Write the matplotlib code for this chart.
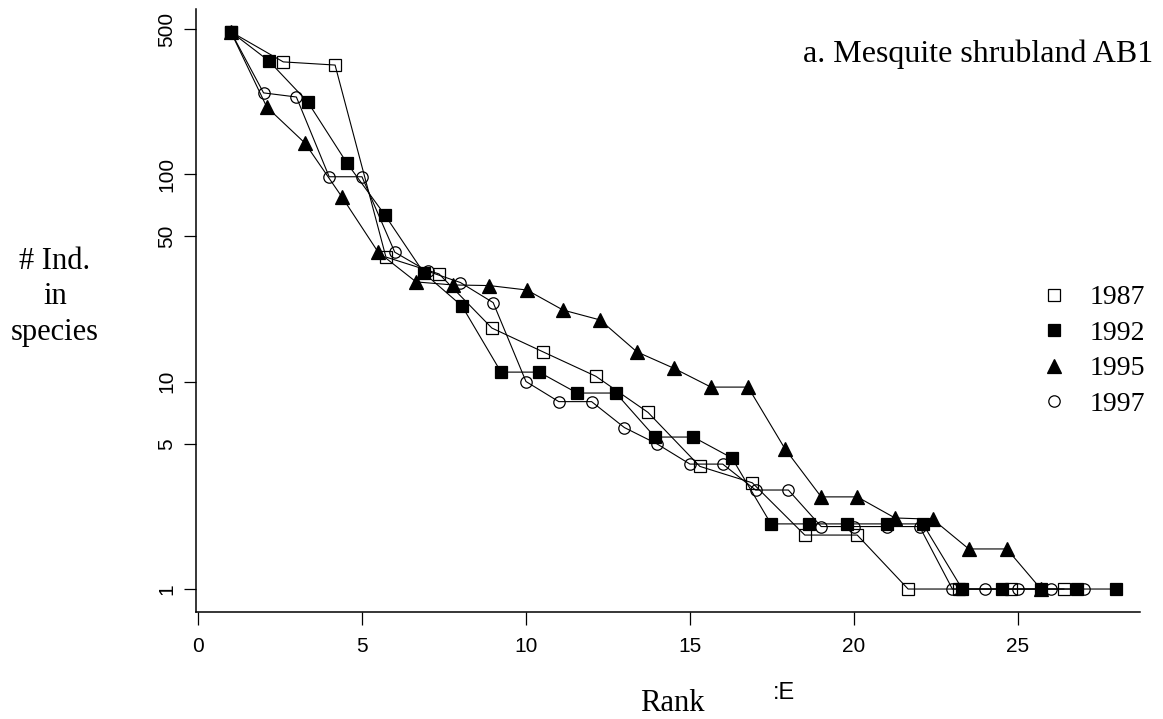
import matplotlib
matplotlib.use('Agg')
import matplotlib.pyplot as plt
from matplotlib.lines import Line2D
from matplotlib.ticker import FixedLocator, FixedFormatter, NullLocator

# ---- data ----
years = ['1987', '1992', '1995', '1997']

x_1987 = [1.0, 2.6, 4.18, 5.73, 7.35, 8.96, 10.52, 12.13, 13.72, 15.3, 16.9,
          18.5, 20.1, 21.65, 23.2, 24.8, 26.4]
y_1987 = [485, 347, 335, 39.8, 33.0, 18.1, 13.9, 10.6, 7.1, 3.9, 3.25,
          1.82, 1.82, 1, 1, 1, 1]

x_1992 = [1.0, 2.16, 3.35, 4.54, 5.70, 6.89, 8.05, 9.24, 10.4, 11.56, 12.74,
          13.93, 15.1, 16.28, 17.47, 18.63, 19.8, 21.0, 22.1, 23.3, 24.5,
          25.7, 26.8, 28.0]
y_1992 = [485, 351, 222, 113, 63.4, 33.3, 23.1, 11.1, 11.1, 8.8, 8.8,
          5.4, 5.4, 4.28, 2.06, 2.06, 2.06, 2.06, 2.06, 1, 1, 1, 1, 1]

x_1995 = [1.0, 2.1, 3.26, 4.39, 5.49, 6.65, 7.77, 8.88, 10.03, 11.13, 12.26,
          13.38, 14.5, 15.64, 16.77, 17.9, 19.0, 20.1, 21.25, 22.4, 23.5,
          24.66, 25.7]
y_1995 = [485, 210, 141, 77.5, 42.1, 30.2, 29.2, 29.0, 27.6, 22.1, 19.8,
          13.9, 11.6, 9.4, 9.4, 4.73, 2.78, 2.78, 2.2, 2.17, 1.56, 1.56, 1]

x_1997 = list(range(1, 28))
y_1997 = [485, 246, 235, 97, 97, 42, 34, 30, 24, 10, 8, 8, 6, 5, 4, 4, 3, 3,
          2, 2, 2, 2, 1, 1, 1, 1, 1]

x_ticks = [0, 5, 10, 15, 20, 25]
y_ticks = [1, 5, 10, 50, 100, 500]
y_tick_labels = ['1', '5', '10', '50', '100', '500']

title_text = 'a. Mesquite shrubland AB1'
ylabel_text = '# Ind.\nin\nspecies'
xlabel_text = 'Rank'

# ---- styles ----
SERIF = ['Liberation Serif', 'DejaVu Serif']
SANS = ['Liberation Sans', 'DejaVu Sans']
styles = {
    '1987': dict(marker='s', mfc='none', mec='black', ms=8.6),
    '1992': dict(marker='s', mfc='black', mec='black', ms=8.6),
    '1995': dict(marker='^', mfc='black', mec='black', ms=9.5),
    '1997': dict(marker='o', mfc='none', mec='black', ms=8.2),
}
series = {'1987': (x_1987, y_1987), '1992': (x_1992, y_1992),
          '1995': (x_1995, y_1995), '1997': (x_1997, y_1997)}

W, H = 1163, 719
fig = plt.figure(figsize=(W / 100, H / 100), dpi=100)
ax = fig.add_axes([196 / W, (H - 612) / H, (1140 - 196) / W, (612 - 9) / H])

for yr in years:
    xs, ys = series[yr]
    ax.plot(xs, ys, color='black', lw=0.8, mew=0.9, **styles[yr])

ax.set_yscale('log')
ax.set_xlim(-0.06, 28.72)
ax.set_ylim(0.775, 624)

ax.xaxis.set_major_locator(FixedLocator(x_ticks))
ax.yaxis.set_major_locator(FixedLocator(y_ticks))
ax.yaxis.set_major_formatter(FixedFormatter(y_tick_labels))
ax.yaxis.set_minor_locator(NullLocator())
ax.xaxis.set_minor_locator(NullLocator())

for s in ['top', 'right']:
    ax.spines[s].set_visible(False)
for s in ['left', 'bottom']:
    ax.spines[s].set_linewidth(1.1)

ax.tick_params(axis='both', direction='out', length=9, width=0.9,
               labelsize=15)
ax.tick_params(axis='x', pad=9)
ax.tick_params(axis='y', pad=5, labelrotation=90)
for lab in ax.get_xticklabels() + ax.get_yticklabels():
    lab.set_family(SANS)
for lab in ax.get_yticklabels():
    lab.set_va('center')

# texts
fig.text(803 / W, 1 - 62 / H, title_text, family=SERIF, fontsize=23,
         ha='left', va='baseline')
fig.text(55 / W, 1 - 297 / H, ylabel_text, family=SERIF, fontsize=22,
         ha='center', va='center', multialignment='center', linespacing=1.3)
fig.text(672 / W, 1 - 711 / H, xlabel_text, family=SERIF, fontsize=22,
         ha='center', va='baseline')
fig.text(773 / W, 1 - 699 / H, ':E', family=SANS, fontsize=17,
         ha='left', va='baseline')

# legend
handles = [Line2D([], [], linestyle='None', color='black', mew=0.9,
                  **styles[yr]) for yr in years]
fig.legend(handles, years, loc='upper left',
           bbox_to_anchor=(1040 / W, 1 - 285 / H), frameon=False,
           prop={'family': SERIF, 'size': 20}, handlelength=1.0,
           handletextpad=0.8, labelspacing=0.36, borderpad=0,
           borderaxespad=0)

fig.savefig('out.png', dpi=100)
